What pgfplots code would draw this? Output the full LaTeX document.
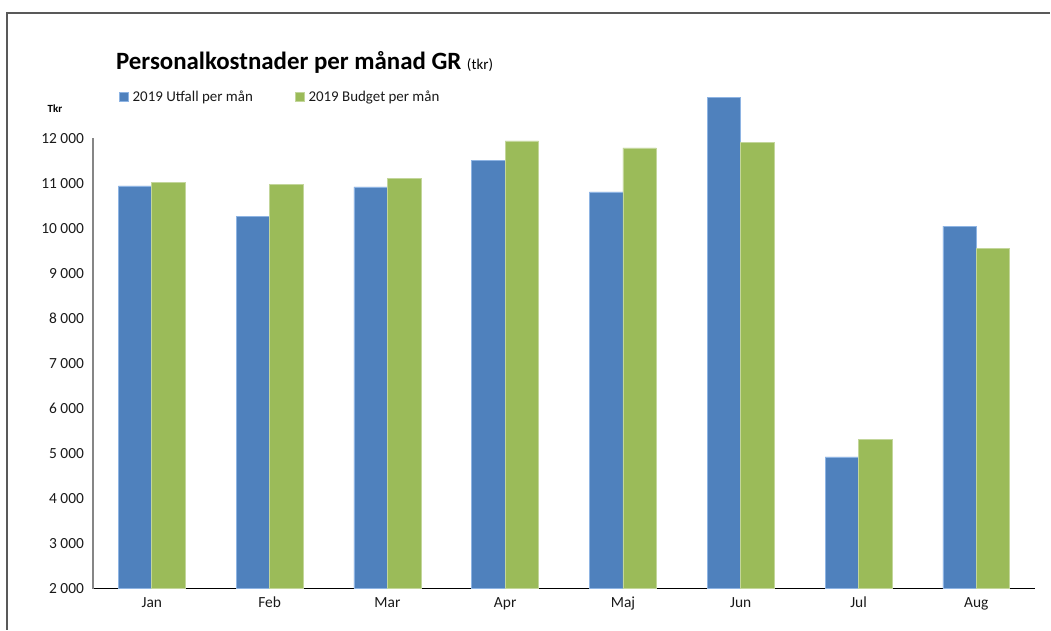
\documentclass[border=0pt]{standalone}
\usepackage{pgfplots}
\pgfplotsset{compat=1.18}
\usepackage{fontspec}
\setmainfont{Carlito}
\definecolor{barblue}{HTML}{4F81BD}
\definecolor{edgeblue}{HTML}{8EB4E3}
\definecolor{bargreen}{HTML}{9BBB59}
\definecolor{edgegreen}{HTML}{C3D69B}
\definecolor{framegray}{HTML}{595959}
\definecolor{axisgray}{HTML}{868686}
\begin{document}
\begin{tikzpicture}[x=1bp,y=1bp]
\draw[framegray, line width=1.6bp] (7.3,0) -- (7.3,616.7) -- (1051,616.7);
\begin{axis}[
  at={(93bp,40.7bp)}, anchor=south west,
  scale only axis, width=943bp, height=451bp,
  xmin=-0.5, xmax=7.5, ymin=2000, ymax=12000,
  clip=false,
  scaled y ticks=false,
  ybar=0pt, bar width=33.5bp,
  axis x line*=bottom, axis y line*=left,
  x axis line style={black, line width=1bp, -},
  y axis line style={axisgray, line width=1.5bp, -},
  xtick=data,
  xticklabels={Jan,Feb,Mar,Apr,Maj,Jun,Jul,Aug},
  ytick={2000,3000,4000,5000,6000,7000,8000,9000,10000,11000,12000},
  yticklabels={2 000,3 000,4 000,5 000,6 000,7 000,8 000,9 000,10 000,11 000,12 000},
  major tick length=0pt,
  ticklabel style={font=\fontsize{15.5}{15.5}\selectfont, text=black!90},
  yticklabel style={xshift=-5.5bp},
  xticklabel style={text height=10bp, text depth=3bp, yshift=-5bp},
  legend columns=2,
  legend style={draw=none, fill=none, at={(0.0276,1.091)}, anchor=west,
    inner sep=0pt, outer sep=0pt,
    font=\fontsize{15}{15}\selectfont,
    nodes={inner sep=0pt, text=black!90},
    /tikz/every odd column/.append style={column sep=4bp},
    /tikz/every even column/.append style={column sep=42bp}},
  legend image code/.code={\fill[#1] (0bp,-4bp) rectangle (9bp,5bp);},
]
\addplot[fill=barblue, draw=edgeblue, line width=0.7bp] coordinates {
  (0,10942) (1,10262) (2,10920) (3,11497) (4,10809) (5,12909) (6,4927) (7,10049)};
\addlegendentry{2019 Utfall per mån}
\addplot[fill=bargreen, draw=edgegreen, line width=0.7bp] coordinates {
  (0,11024) (1,10965) (2,11098) (3,11940) (4,11785) (5,11911) (6,5310) (7,9552)};
\addlegendentry{2019 Budget per mån}
\end{axis}
\node[anchor=base west, inner sep=0pt] at (116,560) {\fontsize{25}{25}\selectfont\bfseries Personalkostnader per månad GR \fontsize{15}{15}\selectfont\mdseries (tkr)};
\node[anchor=base, inner sep=0pt] at (55,517) {\fontsize{11}{11}\selectfont\bfseries Tkr};
\path[use as bounding box] (0,0) rectangle (1051,630);
\end{tikzpicture}
\end{document}
